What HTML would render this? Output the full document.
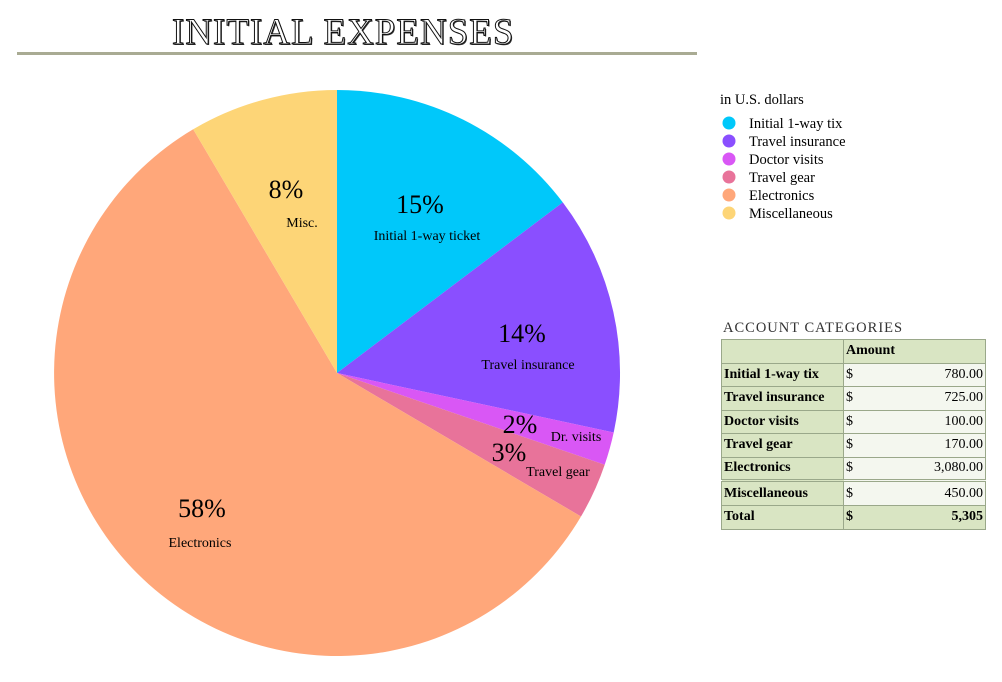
<!DOCTYPE html>
<html><head><meta charset="utf-8"><style>
body{margin:0;width:1002px;height:682px;background:#fff;position:relative;font-family:"Liberation Serif",serif;overflow:hidden}
.t{position:absolute;white-space:nowrap}
table{position:absolute;left:721px;top:339px;border-collapse:collapse;font-size:14px}
td{border:1px solid #9aa88a;height:23.5px;padding:0 2px;box-sizing:border-box}
td.l{background:#d9e5c3;font-weight:bold;width:122px}
td.v{background:#f4f7ef;width:142px}
td.v span{float:right}
</style></head><body>
<div class="t" style="left:172px;top:11px;font-size:37px;letter-spacing:1px;color:#fff;-webkit-text-stroke:1px #111;text-shadow:1px 1px 0 #333">INITIAL EXPENSES</div>
<div style="position:absolute;left:17px;top:52px;width:680px;height:3px;background:#a9ab93"></div>
<svg width="1002" height="682" style="position:absolute;left:0;top:0">
<path d="M337,373 L337,90 A283,283 0 0 1 562.8,202.4Z" fill="#00C8FA"/>
<path d="M337,373 L562.8,202.4 A283,283 0 0 1 613.7,432.5Z" fill="#8A4FFF"/>
<path d="M337,373 L613.7,432.5 A283,283 0 0 1 604.7,464.7Z" fill="#D957F5"/>
<path d="M337,373 L604.7,464.7 A283,283 0 0 1 581,516.5Z" fill="#E8739A"/>
<path d="M337,373 L581,516.5 A283,283 0 1 1 193.2,129.3Z" fill="#FFA77A"/>
<path d="M337,373 L193.2,129.3 A283,283 0 0 1 337,90Z" fill="#FDD577"/>
<g font-family="Liberation Serif,serif" fill="#000">
<text x="420" y="213" font-size="26" text-anchor="middle">15%</text>
<text x="427" y="240" font-size="14" text-anchor="middle">Initial 1-way ticket</text>
<text x="522" y="342" font-size="26" text-anchor="middle">14%</text>
<text x="528" y="369" font-size="14" text-anchor="middle">Travel insurance</text>
<text x="520" y="433" font-size="26" text-anchor="middle">2%</text>
<text x="576" y="441" font-size="14" text-anchor="middle">Dr. visits</text>
<text x="509" y="461" font-size="26" text-anchor="middle">3%</text>
<text x="558" y="476" font-size="14" text-anchor="middle">Travel gear</text>
<text x="202" y="517" font-size="26" text-anchor="middle">58%</text>
<text x="200" y="547" font-size="14" text-anchor="middle">Electronics</text>
<text x="286" y="198" font-size="26" text-anchor="middle">8%</text>
<text x="302" y="227" font-size="14" text-anchor="middle">Misc.</text>
</g>
<g font-family="Liberation Serif,serif" font-size="14.5" fill="#000">
<text x="720" y="104">in U.S. dollars</text>
<circle cx="729" cy="123" r="6.5" fill="#00C8FA"/><text x="749" y="128">Initial 1-way tix</text>
<circle cx="729" cy="141" r="6.5" fill="#8A4FFF"/><text x="749" y="146">Travel insurance</text>
<circle cx="729" cy="159" r="6.5" fill="#D957F5"/><text x="749" y="164">Doctor visits</text>
<circle cx="729" cy="177" r="6.5" fill="#E8739A"/><text x="749" y="182">Travel gear</text>
<circle cx="729" cy="195" r="6.5" fill="#FFA77A"/><text x="749" y="200">Electronics</text>
<circle cx="729" cy="213" r="6.5" fill="#FDD577"/><text x="749" y="218">Miscellaneous</text>
</g>
</svg>
<div class="t" style="left:723px;top:320px;font-size:14.5px;letter-spacing:1px;color:#333">ACCOUNT CATEGORIES</div>
<table>
<tr><td class="l"></td><td class="l" style="width:142px">Amount</td></tr>
<tr><td class="l">Initial 1-way tix</td><td class="v">$<span>780.00</span></td></tr>
<tr><td class="l">Travel insurance</td><td class="v">$<span>725.00</span></td></tr>
<tr><td class="l">Doctor visits</td><td class="v">$<span>100.00</span></td></tr>
<tr><td class="l">Travel gear</td><td class="v">$<span>170.00</span></td></tr>
<tr><td class="l">Electronics</td><td class="v">$<span>3,080.00</span></td></tr>
<tr><td class="l" style="border-top:3px double #9aa88a;height:25px">Miscellaneous</td><td class="v" style="border-top:3px double #9aa88a;height:25px">$<span>450.00</span></td></tr>
<tr><td class="l">Total</td><td class="l" style="width:142px">$<span style="float:right">5,305</span></td></tr>
</table>
</body></html>
